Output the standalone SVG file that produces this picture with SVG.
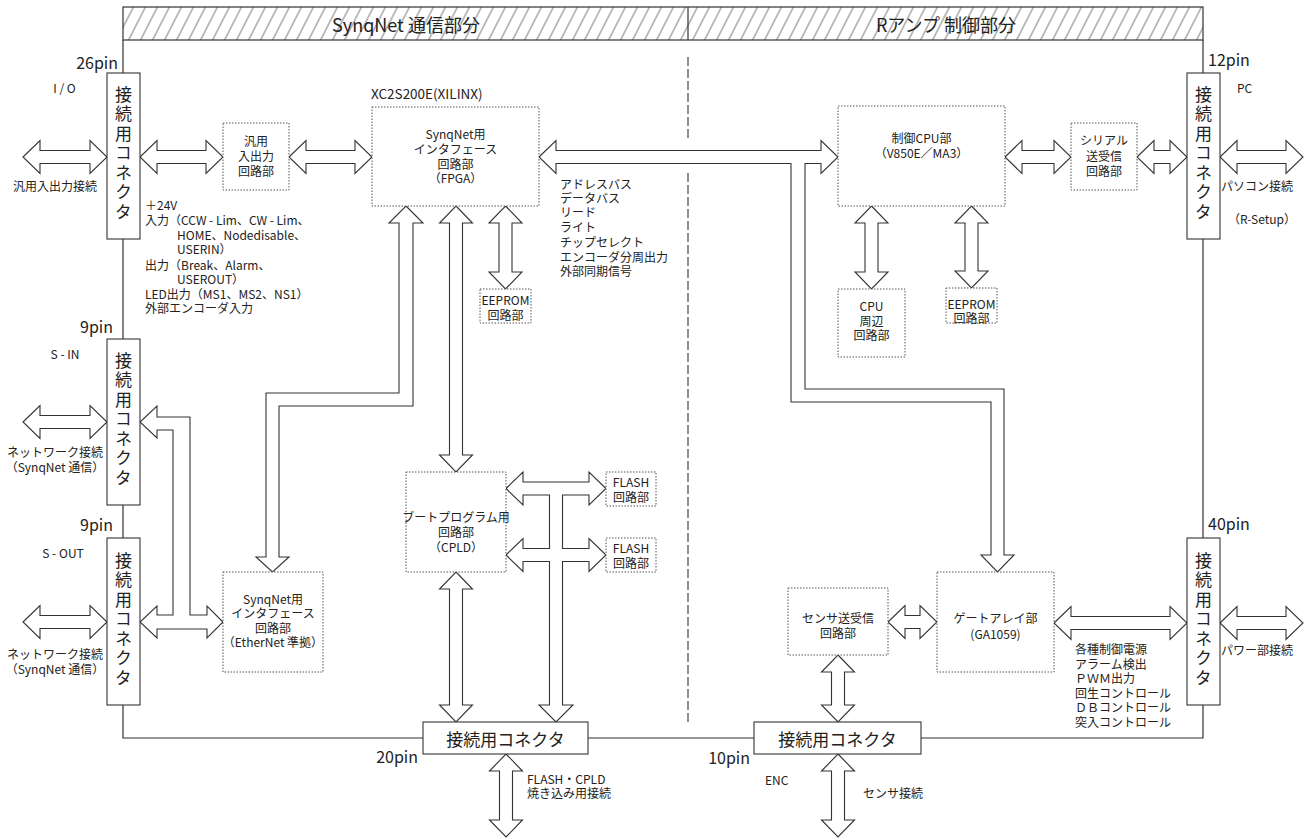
<svg xmlns="http://www.w3.org/2000/svg" width="1314" height="838" viewBox="0 0 1314 838">
<style>
.t{font-family:"Noto Sans CJK JP","Noto Sans",sans-serif;font-size:12px;fill:#222;dominant-baseline:central}
.c{text-anchor:middle}
.e{text-anchor:end}
.pin{font-size:16px}
.cn{font-size:17px}
.v{font-family:"Noto Sans CJK JP",sans-serif;font-size:17px;fill:#222;writing-mode:vertical-rl;letter-spacing:2.5px}
.title{font-size:18px}
.box{fill:#fff;stroke:#333;stroke-width:1.1}
.dot{fill:#fff;stroke:#555;stroke-width:1;stroke-dasharray:1.5 1.5}
.arr{fill:#fff;stroke:#333;stroke-width:1.1;stroke-linejoin:miter}
.ln{fill:none;stroke:#333;stroke-width:1.2}
</style>
<defs>
<pattern id="hatch" patternUnits="userSpaceOnUse" width="12" height="40" patternTransform="skewX(-27)">
<line x1="5" y1="-1" x2="5" y2="41" stroke="#555" stroke-width="0.8"/>
</pattern>
</defs>
<rect width="1314" height="838" fill="#fff"/>
<g id="header">
<rect x="123" y="7" width="1080" height="33" fill="url(#hatch)" stroke="#333" stroke-width="1.2"/>
<line x1="688" y1="7" x2="688" y2="40" stroke="#333" stroke-width="1.2"/>
<text class="t c title" x="406" y="24">SynqNet 通信部分</text>
<text class="t c title" x="946" y="24">Rアンプ 制御部分</text>
</g>
<g id="frame">
<path class="ln" d="M123,40 V73 M123,239 V339 M123,505 V538 M123,705 V738 H423 M588,738 H754 M921,738 H1203 V705 M1203,538 V239 M1203,73 V40"/>
<path d="M688,57 V138 M688,173 V722" fill="none" stroke="#333" stroke-width="1.1" stroke-dasharray="9 3"/>
</g>
<g id="connectors">
<polygon class="arr" points="23,157 40,140.5 40,150.5 90,150.5 90,140.5 107,157 90,173.5 90,163.5 40,163.5 40,173.5"/>
<polygon class="arr" points="140,157 157,140.5 157,150.5 206,150.5 206,140.5 223,157 206,173.5 206,163.5 157,163.5 157,173.5"/>
<polygon class="arr" points="289,157 306,140.5 306,150.5 355,150.5 355,140.5 372,157 355,173.5 355,163.5 306,163.5 306,173.5"/>
<polygon class="arr" points="539,157 556,140.5 556,150.5 821,150.5 821,140.5 838,157 821,173.5 821,163.5 805,163.5 805,389 1004,389 1004,555 1014,555 997.5,572 981,555 991,555 991,402 791,402 791,163.5 556,163.5 556,173.5"/>
<polygon class="arr" points="1005,157 1022,140.5 1022,150.5 1054,150.5 1054,140.5 1071,157 1054,173.5 1054,163.5 1022,163.5 1022,173.5"/>
<polygon class="arr" points="1137,157 1154,140.5 1154,150.5 1170,150.5 1170,140.5 1187,157 1170,173.5 1170,163.5 1154,163.5 1154,173.5"/>
<polygon class="arr" points="1220,157 1237,140.5 1237,150.5 1286,150.5 1286,140.5 1303,157 1286,173.5 1286,163.5 1237,163.5 1237,173.5"/>
<polygon class="arr" points="871.5,206 888,223 878,223 878,272 888,272 871.5,289 855,272 865,272 865,223 855,223"/>
<polygon class="arr" points="971.5,206 988,223 978,223 978,271 988,271 971.5,288 955,271 965,271 965,223 955,223"/>
<polygon class="arr" points="505.5,206 522,223 512,223 512,272 522,272 505.5,289 489,272 499,272 499,223 489,223"/>
<polygon class="arr" points="456,206 472.5,223 462.5,223 462.5,455 472.5,455 456,472 439.5,455 449.5,455 449.5,223 439.5,223"/>
<polygon class="arr" points="406,206 423,223 413,223 413,406 279,406 279,557 289,557 272.5,572 256,557 266,557 266,393 399,393 399,223 389,223"/>
<polygon class="arr" points="157,417 157,406 140,422 157,438 157,430 173,430 173,615 157,615 157,606 140,622 157,638 157,629 207,629 207,638 223,622 207,606 207,615 190,615 190,417"/>
<polygon class="arr" points="23,422 40,405.5 40,415.5 90,415.5 90,405.5 107,422 90,438.5 90,428.5 40,428.5 40,438.5"/>
<polygon class="arr" points="23,622 40,605.5 40,615.5 90,615.5 90,605.5 107,622 90,638.5 90,628.5 40,628.5 40,638.5"/>
<polygon class="arr" points="456,572 472.5,589 462.5,589 462.5,705 472.5,705 456,722 439.5,705 449.5,705 449.5,589 439.5,589"/>
<path class="arr" d="M549.5,495 L523,495 L523,505 L506,488.5 L523,472 L523,482 L589,482 L589,472 L606,488.5 L589,505 L589,495 L562.5,495 L562.5,548.5 L589,548.5 L589,538.5 L606,555 L589,571.5 L589,561.5 L562.5,561.5 L562.5,705 L573,705 L556,722 L539,705 L549.5,705 L549.5,561.5 L523,561.5 L523,571.5 L506,555 L523,538.5 L523,548.5 L549.5,548.5 Z"/>
<polygon class="arr" points="506,754 522.5,771 512.5,771 512.5,820 522.5,820 506,837 489.5,820 499.5,820 499.5,771 489.5,771"/>
<polygon class="arr" points="888,622 905,605.5 905,615.5 920,615.5 920,605.5 937,622 920,638.5 920,628.5 905,628.5 905,638.5"/>
<polygon class="arr" points="1054,623 1071,606.5 1071,616.5 1170,616.5 1170,606.5 1187,623 1170,639.5 1170,629.5 1071,629.5 1071,639.5"/>
<polygon class="arr" points="1220,623 1237,606.5 1237,616.5 1286,616.5 1286,606.5 1303,623 1286,639.5 1286,629.5 1237,629.5 1237,639.5"/>
<polygon class="arr" points="838,655 854.5,672 844.5,672 844.5,705 854.5,705 838,722 821.5,705 831.5,705 831.5,672 821.5,672"/>
<polygon class="arr" points="838,754 854.5,771 844.5,771 844.5,820 854.5,820 838,837 821.5,820 831.5,820 831.5,771 821.5,771"/>
</g>
<g id="labels">
<text class="t c" x="55" y="185">汎用入出力接続</text>
<text class="t" x="145" y="204"><tspan x="145" y="204">＋24V</tspan><tspan x="145" y="219">入力（CCW - Lim、CW - Lim、</tspan><tspan x="177" y="234">HOME、Nodedisable、</tspan><tspan x="177" y="248">USERIN）</tspan><tspan x="145" y="264">出力（Break、Alarm、</tspan><tspan x="177" y="278">USEROUT）</tspan><tspan x="145" y="293">LED出力（MS1、MS2、NS1）</tspan><tspan x="145" y="307">外部エンコーダ入力</tspan></text>
<text class="t" x="560" y="183"><tspan x="560" y="183">アドレスバス</tspan><tspan x="560" y="197">データバス</tspan><tspan x="560" y="211">リード</tspan><tspan x="560" y="226">ライト</tspan><tspan x="560" y="241">チップセレクト</tspan><tspan x="560" y="256">エンコーダ分周出力</tspan><tspan x="560" y="270">外部同期信号</tspan></text>
<text class="t c" x="55" y="451"><tspan x="55" y="451">ネットワーク接続</tspan><tspan x="55" y="466">（SynqNet 通信）</tspan></text>
<text class="t c" x="55" y="653"><tspan x="55" y="653">ネットワーク接続</tspan><tspan x="55" y="668">（SynqNet 通信）</tspan></text>
<text class="t" x="1221" y="185">パソコン接続</text>
<text class="t c" x="1262" y="218">（R-Setup）</text>
<text class="t" x="1221" y="649">パワー部接続</text>
<text class="t" x="1075" y="648"><tspan x="1075" y="648">各種制御電源</tspan><tspan x="1075" y="663">アラーム検出</tspan><tspan x="1075" y="677">ＰＷＭ出力</tspan><tspan x="1075" y="692">回生コントロール</tspan><tspan x="1075" y="706">ＤＢコントロール</tspan><tspan x="1075" y="721">突入コントロール</tspan></text>
<text class="t" x="527" y="778"><tspan x="527" y="778">FLASH・CPLD</tspan><tspan x="527" y="792">焼き込み用接続</tspan></text>
<text class="t" x="863" y="792">センサ接続</text>
</g>
<g id="conn-io">
<rect class="box" x="107" y="73" width="33" height="166"/>
<text class="v" x="123.5" y="86">接続用コネクタ</text>
<text class="t e pin" x="118" y="62">26pin</text>
<text class="t c" x="64.5" y="87">I / O</text>
</g>
<g id="conn-sin">
<rect class="box" x="107" y="339" width="33" height="166"/>
<text class="v" x="123.5" y="352">接続用コネクタ</text>
<text class="t e pin" x="113" y="326">9pin</text>
<text class="t c" x="65" y="353">S - IN</text>
</g>
<g id="conn-sout">
<rect class="box" x="107" y="538" width="33" height="167"/>
<text class="v" x="123.5" y="552">接続用コネクタ</text>
<text class="t e pin" x="113" y="524">9pin</text>
<text class="t c" x="63" y="552">S - OUT</text>
</g>
<g id="conn-pc">
<rect class="box" x="1187" y="73" width="33" height="166"/>
<text class="v" x="1203.5" y="86">接続用コネクタ</text>
<text class="t pin" x="1208" y="59">12pin</text>
<text class="t" x="1237" y="87">PC</text>
</g>
<g id="conn-power">
<rect class="box" x="1187" y="538" width="33" height="167"/>
<text class="v" x="1203.5" y="552">接続用コネクタ</text>
<text class="t pin" x="1208" y="523">40pin</text>
</g>
<g id="conn-20pin">
<rect class="box" x="423" y="722" width="165" height="32"/>
<text class="t c cn" x="505.5" y="738">接続用コネクタ</text>
<text class="t e pin" x="418" y="756">20pin</text>
</g>
<g id="conn-10pin">
<rect class="box" x="754" y="722" width="167" height="32"/>
<text class="t c cn" x="837.5" y="738">接続用コネクタ</text>
<text class="t e pin" x="750" y="757">10pin</text>
<text class="t" x="765" y="779">ENC</text>
</g>
<g id="box-gpio">
<rect class="dot" x="223" y="123" width="66" height="67"/>
<text class="t c" x="256" y="140"><tspan x="256" y="140">汎用</tspan><tspan x="256" y="155">入出力</tspan><tspan x="256" y="170">回路部</tspan></text>
</g>
<g id="box-fpga">
<rect class="dot" x="372" y="107" width="167" height="99"/>
<text class="t" x="371" y="93" style="font-size:13.5px">XC2S200E(XILINX)</text>
<text class="t c" x="455.5" y="133"><tspan x="455.5" y="133">SynqNet用</tspan><tspan x="455.5" y="148">インタフェース</tspan><tspan x="455.5" y="163">回路部</tspan><tspan x="455.5" y="177">（FPGA）</tspan></text>
</g>
<g id="box-eeprom1">
<rect class="dot" x="480" y="289" width="51" height="34"/>
<text class="t c" x="505.5" y="299"><tspan x="505.5" y="299">EEPROM</tspan><tspan x="505.5" y="314">回路部</tspan></text>
</g>
<g id="box-cpld">
<rect class="dot" x="406" y="472" width="100" height="100"/>
<text class="t c" x="456" y="516"><tspan x="456" y="516">ブートプログラム用</tspan><tspan x="456" y="531">回路部</tspan><tspan x="456" y="546">（CPLD）</tspan></text>
</g>
<g id="box-flash1">
<rect class="dot" x="606" y="472" width="50" height="34"/>
<text class="t c" x="631" y="481"><tspan x="631" y="481">FLASH</tspan><tspan x="631" y="496">回路部</tspan></text>
</g>
<g id="box-flash2">
<rect class="dot" x="606" y="538" width="50" height="34"/>
<text class="t c" x="631" y="547"><tspan x="631" y="547">FLASH</tspan><tspan x="631" y="562">回路部</tspan></text>
</g>
<g id="box-ether">
<rect class="dot" x="223" y="572" width="100" height="100"/>
<text class="t c" x="273" y="598"><tspan x="273" y="598">SynqNet用</tspan><tspan x="273" y="612">インタフェース</tspan><tspan x="273" y="627">回路部</tspan><tspan x="273" y="641">（EtherNet 準拠）</tspan></text>
</g>
<g id="box-cpu">
<rect class="dot" x="838" y="106" width="167" height="100"/>
<text class="t c" x="921.5" y="137"><tspan x="921.5" y="137">制御CPU部</tspan><tspan x="921.5" y="152">（V850E／MA3）</tspan></text>
</g>
<g id="box-serial">
<rect class="dot" x="1071" y="123" width="66" height="67"/>
<text class="t c" x="1104" y="139"><tspan x="1104" y="139">シリアル</tspan><tspan x="1104" y="155">送受信</tspan><tspan x="1104" y="170">回路部</tspan></text>
</g>
<g id="box-cpuperi">
<rect class="dot" x="838" y="289" width="67" height="68"/>
<text class="t c" x="871.5" y="305"><tspan x="871.5" y="305">CPU</tspan><tspan x="871.5" y="320">周辺</tspan><tspan x="871.5" y="334">回路部</tspan></text>
</g>
<g id="box-eeprom2">
<rect class="dot" x="946" y="288" width="51" height="35"/>
<text class="t c" x="971.5" y="303"><tspan x="971.5" y="303">EEPROM</tspan><tspan x="971.5" y="317">回路部</tspan></text>
</g>
<g id="box-sensor">
<rect class="dot" x="788" y="588" width="100" height="67"/>
<text class="t c" x="838" y="617"><tspan x="838" y="617">センサ送受信</tspan><tspan x="838" y="632">回路部</tspan></text>
</g>
<g id="box-ga">
<rect class="dot" x="937" y="572" width="117" height="100"/>
<text class="t c" x="995.5" y="617"><tspan x="995.5" y="617">ゲートアレイ部</tspan><tspan x="995.5" y="633">(GA1059)</tspan></text>
</g>
</svg>
